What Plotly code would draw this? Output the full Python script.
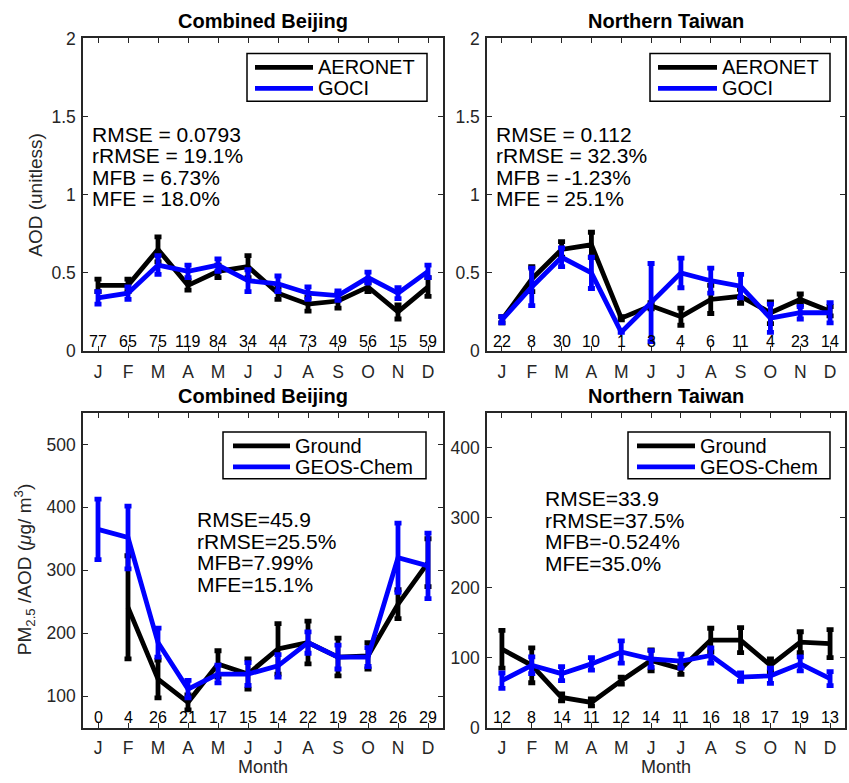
import plotly.graph_objects as go

W, H = 849, 783
# vertical placement: page pixel -> figure pixel (the page is laid out with an
# 8.5px top offset and a 0.9758 vertical factor)
Y_OFF, Y_SCALE = 8.5, 0.9758

months = ["J", "F", "M", "A", "M", "J", "J", "A", "S", "O", "N", "D"]
month_idx = list(range(1, 13))

# ---- AOD, Combined Beijing ----
bj_aeronet = [0.42, 0.42, 0.65, 0.42, 0.51, 0.54, 0.37, 0.30, 0.32, 0.41, 0.25, 0.41]
bj_aeronet_err = [0.04, 0.04, 0.08, 0.03, 0.04, 0.07, 0.04, 0.045, 0.045, 0.03, 0.045, 0.06]
bj_goci = [0.34, 0.37, 0.55, 0.51, 0.55, 0.45, 0.43, 0.37, 0.355, 0.47, 0.37, 0.51]
bj_goci_err = [0.04, 0.04, 0.06, 0.04, 0.04, 0.07, 0.05, 0.04, 0.03, 0.035, 0.035, 0.04]
bj_aod_n = ["77", "65", "75", "119", "84", "34", "44", "73", "49", "56", "15", "59"]
bj_aod_stats = ["RMSE = 0.0793", "rRMSE = 19.1%", "MFB = 6.73%", "MFE = 18.0%"]

# ---- AOD, Northern Taiwan ----
tw_aeronet = [0.20, 0.46, 0.65, 0.68, 0.21, 0.29, 0.22, 0.33, 0.35, 0.245, 0.33, 0.255]
tw_aeronet_err = [0.02, 0.08, 0.05, 0.08, 0.01, 0.02, 0.055, 0.09, 0.045, 0.07, 0.035, 0.03]
tw_goci = [0.20, 0.41, 0.60, 0.50, 0.12, 0.31, 0.50, 0.45, 0.415, 0.21, 0.245, 0.245]
tw_goci_err = [0.02, 0.12, 0.06, 0.10, 0.0, 0.25, 0.095, 0.08, 0.075, 0.09, 0.04, 0.065]
tw_aod_n = ["22", "8", "30", "10", "1", "3", "4", "6", "11", "4", "23", "14"]
tw_aod_stats = ["RMSE = 0.112", "rRMSE = 32.3%", "MFB = -1.23%", "MFE = 25.1%"]

# ---- PM2.5/AOD, Combined Beijing ----
bj_ground = [None, 241, 127, 90, 151, 135, 175, 185, 162, 164, 246, 312]
bj_ground_err = [None, 82, 30, 12, 21, 24, 40, 34, 30, 21, 23, 38]
bj_geos = [365, 352, 185, 111, 135, 135, 148, 185, 162, 162, 320, 307]
bj_geos_err = [48, 50, 23, 14, 14, 18, 18, 17, 19, 15, 55, 52]
bj_pm_n = ["0", "4", "26", "21", "17", "15", "14", "22", "19", "28", "26", "29"]
bj_pm_stats = ["RMSE=45.9", "rRMSE=25.5%", "MFB=7.99%", "MFE=15.1%"]

# ---- PM2.5/AOD, Northern Taiwan ----
tw_ground = [112, 89, 43, 36, 67, 96, 84, 125, 125, 89, 122, 120]
tw_ground_err = [27, 25, 5, 5, 5, 15, 8, 17, 18, 9, 15, 20]
tw_geos = [67, 89, 77, 91, 108, 98, 95, 103, 72, 74, 91, 70]
tw_geos_err = [11, 12, 10, 9, 16, 12, 10, 11, 6, 11, 10, 10]
tw_pm_n = ["12", "8", "14", "11", "12", "14", "11", "16", "18", "17", "19", "13"]
tw_pm_stats = ["RMSE=33.9", "rRMSE=37.5%", "MFB=-0.524%", "MFE=35.0%"]

FONT = "Liberation Sans, Arial, Helvetica, sans-serif"
AX = "#262626"
BLUE = "#0000ff"
LW = 4.8


def fx(px):
    return px / W


def fy(py):
    f = (py - Y_OFF) / Y_SCALE
    return 1 - min(max(f, 0), H) / H


# page-pixel boxes of the four axes: (left, right, top, bottom)
boxes = {
    "": (83, 443, 37, 350),
    "2": (487, 845, 37, 350),
    "3": (83, 443, 412, 727),
    "4": (487, 845, 412, 727),
}

panels = [
    ("", "Combined Beijing", (bj_aeronet, bj_aeronet_err), (bj_goci, bj_goci_err),
     bj_aod_n, bj_aod_stats, [0, 2], [0, 0.5, 1, 1.5, 2], ["0", "0.5", "1", "1.5", "2"]),
    ("2", "Northern Taiwan", (tw_aeronet, tw_aeronet_err), (tw_goci, tw_goci_err),
     tw_aod_n, tw_aod_stats, [0, 2], [0, 0.5, 1, 1.5, 2], ["0", "0.5", "1", "1.5", "2"]),
    ("3", "Combined Beijing", (bj_ground, bj_ground_err), (bj_geos, bj_geos_err),
     bj_pm_n, bj_pm_stats, [50, 550], [100, 200, 300, 400, 500], ["100", "200", "300", "400", "500"]),
    ("4", "Northern Taiwan", (tw_ground, tw_ground_err), (tw_geos, tw_geos_err),
     tw_pm_n, tw_pm_stats, [0, 450], [0, 100, 200, 300, 400], ["0", "100", "200", "300", "400"]),
]

fig = go.Figure()
annotations = []
shapes = []
layout_axes = {}

for key, title, (ref_v, ref_e), (mod_v, mod_e), counts, stats, yr, yt, ytt in panels:
    xa, ya = "x" + key, "y" + key
    l, r, t, b = boxes[key]

    for vals, errs, color in ((ref_v, ref_e, "black"), (mod_v, mod_e, BLUE)):
        fig.add_trace(go.Scatter(
            x=month_idx, y=vals, xaxis=xa, yaxis=ya, mode="lines",
            line=dict(color=color, width=LW), showlegend=False,
            error_y=dict(type="data", array=errs, symmetric=True, visible=True,
                         color=color, thickness=LW, width=3.5),
        ))

    axis_common = dict(showline=True, linecolor=AX, linewidth=1.5, mirror="ticks",
                       ticks="inside", ticklen=5, tickwidth=1, tickcolor=AX,
                       showgrid=False, zeroline=False,
                       tickfont=dict(family=FONT, size=17.5, color=AX))
    layout_axes["xaxis" + key] = dict(
        axis_common, domain=[fx(l), fx(r)], anchor=ya, range=[0.5, 12.5],
        tickvals=month_idx, ticktext=months, ticklabelstandoff=4)
    layout_axes["yaxis" + key] = dict(
        axis_common, domain=[fy(b), fy(t)], anchor=xa, range=yr,
        tickvals=yt, ticktext=ytt, ticklabelstandoff=2)

    # panel title
    annotations.append(dict(text="<b>" + title + "</b>", xref="paper", yref="paper",
                            x=fx((l + r) / 2), y=fy(t - 17), showarrow=False,
                            xanchor="center", yanchor="middle",
                            font=dict(family=FONT, size=20, color="black")))

    # sample counts above the month axis
    for m, n in zip(month_idx, counts):
        annotations.append(dict(text=n, xref=xa, yref=ya + " domain", x=m,
                                y=10 / (b - t), showarrow=False,
                                xanchor="center", yanchor="middle",
                                font=dict(family=FONT, size=16, color="black")))

    # statistics block
    if key in ("", "2"):
        sx, sy0 = l + 7, 133
    else:
        sx, sy0 = l + 112 if key == "3" else l + 56, 519 if key == "3" else 498
    for i, s in enumerate(stats):
        annotations.append(dict(text=s, xref="paper", yref="paper",
                                x=fx(sx), y=fy(sy0 + i * 21.5), showarrow=False,
                                xanchor="left", yanchor="middle",
                                font=dict(family=FONT, size=21, color="black")))

# legends drawn as boxed line samples
legend_specs = [
    ((247, 427, 52, 100), (255, 313), ("AERONET", "GOCI")),
    ((650, 830, 52, 100), (658, 717), ("AERONET", "GOCI")),
    ((223, 426, 431, 478), (233, 290), ("Ground", "GEOS-Chem")),
    ((628, 830, 431, 478), (637, 695), ("Ground", "GEOS-Chem")),
]
for (bl, br, bt, bb), (s0, s1), names in legend_specs:
    shapes.append(dict(type="rect", xref="paper", yref="paper",
                       x0=fx(bl), x1=fx(br), y0=fy(bb), y1=fy(bt),
                       line=dict(color="black", width=1.5), fillcolor="white",
                       layer="above"))
    rows = (bt + 14, bt + 35)
    for name, color, yy in zip(names, ("black", BLUE), rows):
        shapes.append(dict(type="line", xref="paper", yref="paper",
                           x0=fx(s0), x1=fx(s1), y0=fy(yy), y1=fy(yy),
                           line=dict(color=color, width=LW), layer="above"))
        annotations.append(dict(text=name, xref="paper", yref="paper",
                                x=fx(s1 + 3), y=fy(yy), showarrow=False,
                                xanchor="left", yanchor="middle",
                                font=dict(family=FONT, size=20, color="black")))

# axis titles
annotations.append(dict(text="AOD (unitless)", xref="paper", yref="paper",
                        x=fx(36), y=fy(193.5), textangle=-90, showarrow=False,
                        xanchor="center", yanchor="middle",
                        font=dict(family=FONT, size=19, color=AX)))
annotations.append(dict(text="PM<sub>2.5</sub> /AOD (<i>μ</i>g/ m<sup>3</sup>)",
                        xref="paper", yref="paper",
                        x=fx(24), y=fy(569.5), textangle=-90, showarrow=False,
                        xanchor="center", yanchor="middle",
                        font=dict(family=FONT, size=19, color=AX)))
for cx in (263, 666):
    annotations.append(dict(text="Month", xref="paper", yref="paper",
                            x=fx(cx), y=fy(767), showarrow=False,
                            xanchor="center", yanchor="middle",
                            font=dict(family=FONT, size=18, color=AX)))

fig.update_layout(
    width=W, height=H,
    margin=dict(l=0, r=0, t=0, b=0),
    paper_bgcolor="white", plot_bgcolor="white",
    annotations=annotations, shapes=shapes,
    **layout_axes,
)

fig.write_html("out.html")
